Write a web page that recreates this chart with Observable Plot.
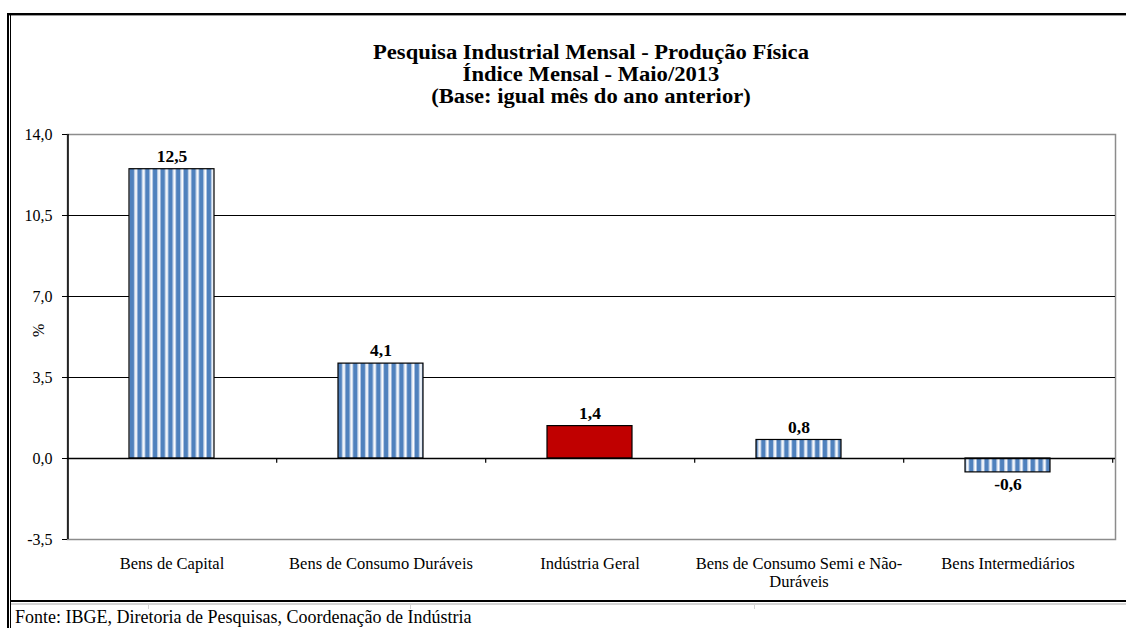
<!DOCTYPE html>
<html>
<head>
<meta charset="utf-8">
<script src="https://cdn.jsdelivr.net/npm/d3@7"></script>
<script src="https://cdn.jsdelivr.net/npm/@observablehq/plot@0.6"></script>
<style>
  body { margin: 0; background: #fff; }
  #wrap { position: relative; width: 1126px; height: 628px; overflow: hidden; background: #fff; font-family: "Liberation Serif", serif; color: #000; }
  .ln { position: absolute; }
  #title { position: absolute; left: 0; width: 1182px; top: 41px; text-align: center; font-weight: bold; font-size: 20px; line-height: 22px; white-space: nowrap; }
  #title div { transform: scaleX(1.13); transform-origin: 591px 0; }
  #footer { position: absolute; left: 15px; top: 608px; font-size: 18px; line-height: 18px; white-space: nowrap; }
  #chart { position: absolute; left: 0; top: 0; }
</style>
</head>
<body>
<div id="wrap">
  <div id="chart"></div>
  <div class="ln" style="left:7px;top:13px;width:1119px;height:2px;background:#000"></div>
  <div class="ln" style="left:9px;top:15px;width:1117px;height:1px;background:#999"></div>
  <div class="ln" style="left:7px;top:13px;width:2px;height:615px;background:#000"></div>
  <div class="ln" style="left:10px;top:15px;width:1px;height:613px;background:#000"></div>
  <div class="ln" style="left:10px;top:600px;width:1116px;height:2px;background:#000"></div>
  <div class="ln" style="left:11px;top:603px;width:1115px;height:2px;background:#d4d4d4"></div>
  <div class="ln" style="left:148px;top:603px;width:1px;height:6px;background:#d4d4d4"></div>
  <div class="ln" style="left:410px;top:603px;width:1px;height:6px;background:#d4d4d4"></div>
  <div class="ln" style="left:754px;top:603px;width:1px;height:6px;background:#d4d4d4"></div>
  <div id="title"></div>
  <div id="footer"></div>
</div>
<script>
// ---- data ----
const categories = ["Bens de Capital", "Bens de Consumo Duráveis", "Indústria Geral", "Bens de Consumo Semi e Não-Duráveis", "Bens Intermediários"];
const categoryLabels = ["Bens de Capital", "Bens de Consumo Duráveis", "Indústria Geral", "Bens de Consumo Semi e Não-\nDuráveis", "Bens Intermediários"];
const values = [12.5, 4.1, 1.4, 0.8, -0.6];
const highlight = "Indústria Geral";
const yTicks = [-3.5, 0, 3.5, 7, 10.5, 14];
const gridValues = [3.5, 7, 10.5];
const titleLines = ["Pesquisa Industrial Mensal - Produção Física", "Índice Mensal - Maio/2013", "(Base: igual mês do ano anterior)"];
const footerText = "Fonte: IBGE, Diretoria de Pesquisas, Coordenação de Indústria";
const yLabel = "%";

const data = categories.map((c, i) => ({cat: c, value: values[i], label: categoryLabels[i]}));

document.getElementById("title").innerHTML = titleLines.map(t => `<div>${t}</div>`).join("");
document.getElementById("footer").textContent = footerText;

const W = 1126, H = 600, ML = 67, MR = 11, MT = 134, MB = 61;
const X0 = 66, X1 = 1113;
const step = (X1 - X0) / categories.length;
const fmt = v => v.toFixed(1).replace(".", ",");

const chart = Plot.plot({
  width: W, height: H,
  marginLeft: ML, marginRight: MR, marginTop: MT, marginBottom: MB,
  style: {fontFamily: "'Liberation Serif', serif", fontSize: "16px", color: "#000", background: "transparent", overflow: "visible"},
  x: {domain: categories, range: [X0, X1], paddingInner: 0.595, paddingOuter: 0.2975, axis: null},
  y: {domain: [-3.5, 14], axis: null},
  marks: [
    Plot.frame({stroke: "#8c8c8c", strokeWidth: 1.5}),
    Plot.ruleY(gridValues, {stroke: "#000", strokeWidth: 1.2}),
    Plot.barY(data.filter(d => d.cat !== highlight), {x: "cat", y: "value", fill: "url(#stripes)", stroke: "#000", strokeWidth: 1.2}),
    Plot.barY(data.filter(d => d.cat === highlight), {x: "cat", y: "value", fill: "#C00000", stroke: "#000", strokeWidth: 1.2}),
    Plot.ruleY([0], {stroke: "#000", strokeWidth: 1.3}),
    Plot.ruleX(categories, {dx: step / 2, y1: 0, y2: -0.2, stroke: "#000", strokeWidth: 1.2}),
    Plot.ruleX([categories[0]], {dx: -step / 2 + 0.7, stroke: "#000", strokeWidth: 1.5}),
    Plot.axisY({ticks: yTicks, tickFormat: fmt, tickSize: 5, tickPadding: 10, fontSize: 16, label: null, anchor: "left", stroke: "#000"}),
    Plot.text(data.filter(d => d.value >= 0), {x: "cat", y: "value", text: d => fmt(d.value), dy: -13, fontWeight: "bold", fontSize: 17.5, fill: "#000"}),
    Plot.text(data.filter(d => d.value < 0), {x: "cat", y: "value", text: d => fmt(d.value), dy: 12, fontWeight: "bold", fontSize: 17.5, fill: "#000"}),
    Plot.text(data, {x: "cat", text: "label", frameAnchor: "bottom", lineAnchor: "top", dy: 16.6, fontSize: 16.5, lineHeight: 1.1, fill: "#000"}),
    Plot.text([yLabel], {frameAnchor: "left", dx: -29, rotate: -90, fontSize: 16, fill: "#000"})
  ]
});

const svg = d3.select(chart);
const defs = svg.insert("defs", ":first-child");
const pat = defs.append("pattern").attr("id", "stripes").attr("patternUnits", "userSpaceOnUse")
  .attr("width", 7.7).attr("height", 10).attr("patternTransform", "translate(130,0)");
pat.append("rect").attr("width", 7.7).attr("height", 10).attr("fill", "#fff");
pat.append("rect").attr("x", 0).attr("width", 4.2).attr("height", 10).attr("fill", "#4F81BD");
pat.append("rect").attr("x", 4.2).attr("width", 0.9).attr("height", 10).attr("fill", "#A9C0E0");
pat.append("rect").attr("x", 6.8).attr("width", 0.9).attr("height", 10).attr("fill", "#A9C0E0");

document.getElementById("chart").appendChild(chart);
</script>
</body>
</html>
